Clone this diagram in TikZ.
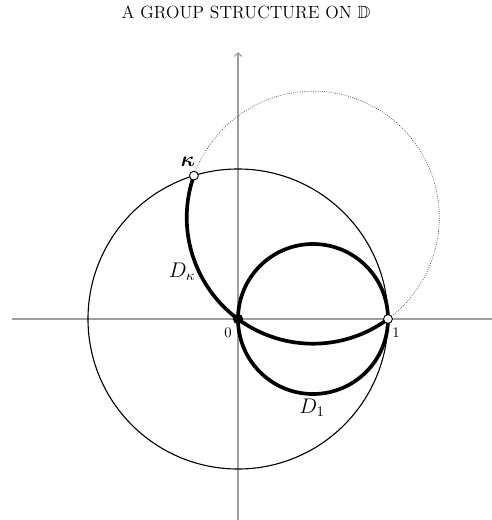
\documentclass[tikz,border=0pt]{standalone}
\usepackage{amssymb,amsmath,bm}
\usetikzlibrary{arrows.meta}
\begin{document}
\begin{tikzpicture}[x=102pt,y=102pt,
  axis/.style={draw=gray!75,line width=0.8pt},
  thin circle/.style={draw=black,line width=0.75pt},
  thick arc/.style={draw=black,line width=2.5pt},
  dotted arc/.style={draw=black!75,line width=0.5pt,densely dotted},
  openpt/.style={circle,draw=black,fill=white,inner sep=0pt,minimum size=6pt,line width=0.6pt},
  filledpt/.style={circle,fill=black,inner sep=0pt,minimum size=7pt},
  lbl/.style={font=\Large}]
\useasboundingbox (-1.5867,-1.34) rectangle (1.6933,2.1267);
\node[font=\large] (title) at (0.053,2.047) {A GROUP STRUCTURE ON $\mathbb{D}$};
% axes
\coordinate (xl) at (-1.507,0);
\coordinate (xr) at (1.6933,0);
\coordinate (yb) at (0,-1.34);
\coordinate (yt) at (0,1.78);
\draw[axis] (xl) -- (xr);
\draw[axis,-{Straight Barb[length=2.5pt,width=5pt]}] (yb) -- (yt);
% key points
\coordinate (O) at (0,0);
\coordinate (one) at (1,0);
\coordinate (kappa) at ({cos(107.1)},{sin(107.1)});
\coordinate (c1) at (0.5,0);
% unit circle
\draw[thin circle] (O) circle[radius=1];
% dotted part of D_kappa circle
\draw[dotted arc] (one) arc[start angle=-53.56,end angle=160.64,radius=0.8415];
% D_1
\draw[thick arc] (c1) circle[radius=0.5];
% D_kappa
\draw[thick arc] (kappa) arc[start angle=160.64,end angle=306.44,radius=0.8415];
% points
\node[openpt] (pk) at (kappa) {};
\node[openpt] (p1) at (one) {};
\node[filledpt] (p0) at (O) {};
% labels
\node[lbl] (lk) at (-0.333,1.047) {$\bm{\kappa}$};
\node[lbl] (ldk) at (-0.373,0.313) {$D_\kappa$};
\node (l0) at (-0.067,-0.093) {$0$};
\node (l1) at (1.053,-0.093) {$1$};
\node[lbl] (ld1) at (0.493,-0.593) {$D_1$};
\end{tikzpicture}
\end{document}
